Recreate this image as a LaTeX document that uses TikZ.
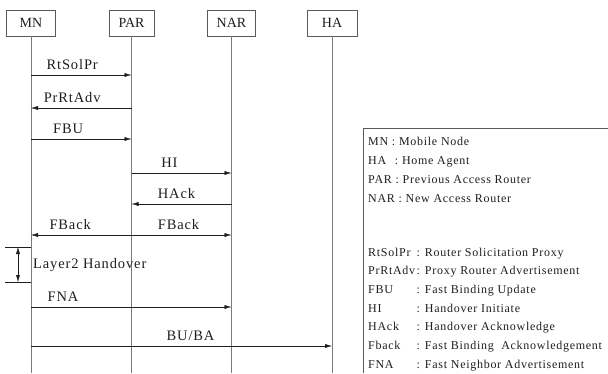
\documentclass[tikz,border=0pt]{standalone}
\usepackage{fontspec}
\setmainfont{Liberation Serif}
\newfontfamily\legendfont{Liberation Serif}[LetterSpace=6]
\newfontfamily\labelfont{Liberation Serif}[LetterSpace=6]
\usetikzlibrary{arrows.meta,positioning,calc}
\definecolor{ink}{HTML}{1E1E1E}
\definecolor{lifegray}{HTML}{7A7A7A}
\definecolor{boxgray}{HTML}{5A5A5A}
\tikzset{
  actor/.style={draw=boxgray, thin, fill=white, minimum width=48pt, minimum height=26pt, inner sep=0pt, font=\fontsize{14}{16}\selectfont, text=ink},
  life/.style={draw=lifegray, thin},
  msg/.style={-{Latex[length=7pt,width=4pt]}, draw=ink, thin},
  bimsg/.style={{Latex[length=7pt,width=4pt]}-{Latex[length=7pt,width=4pt]}, draw=ink, thin},
  msglabel/.style={font=\labelfont\fontsize{14.5}{16}\selectfont, text=ink, inner sep=0pt, above=5pt},
  legend/.style={font=\legendfont\fontsize{12}{13}\selectfont, text=ink, anchor=base west, inner sep=0pt}
}

\begin{document}
\begin{tikzpicture}[x=1pt, y=-1pt]
\useasboundingbox (0,0) rectangle (608,373);
\node[actor, minimum width=49pt] (mn) at (31,23) {MN};
\node[actor, minimum width=45pt] (par) at (131.5,23) {PAR};
\node[actor, minimum width=48pt] (nar) at (231.5,23) {NAR};
\node[actor, minimum width=50pt] (ha) at (332,23) {HA};
\foreach \a in {mn,par,nar,ha}
  \draw[life] (\a.south) -- (\a.south |- 0,373);
\draw[msg] (mn.south |- 0,75) -- node[msglabel, pos=0.41] {RtSolPr} (par.south |- 0,75);
\draw[msg] (par.south |- 0,108) -- node[msglabel, pos=0.59] {PrRtAdv} (mn.south |- 0,108);
\draw[msg] (mn.south |- 0,139) -- node[msglabel, pos=0.37] {FBU} (par.south |- 0,139);
\draw[msg] (par.south |- 0,173) -- node[msglabel, pos=0.38] {HI} (nar.south |- 0,173);
\draw[msg] (nar.south |- 0,204) -- node[msglabel, pos=0.55] {HAck} (par.south |- 0,204);
\draw[msg] (par.south |- 0,235) -- node[msglabel, pos=0.61] {FBack} (mn.south |- 0,235);
\draw[msg] (par.south |- 0,235) -- node[msglabel, pos=0.47] {FBack} (nar.south |- 0,235);
\coordinate (l2top) at (18,247);
\coordinate (l2bot) at (18,282);
\draw[draw=ink, thin] (5,247) -- (mn.south |- 0,247);
\draw[draw=ink, thin] (5,282) -- (mn.south |- 0,282);
\draw[bimsg] (l2top) -- (l2bot);
\node[font=\labelfont\fontsize{14.5}{16}\selectfont, text=ink, inner sep=0pt, anchor=west] (l2text) at (33,265) {Layer2 Handover};
\draw[msg] (mn.south |- 0,307) -- node[msglabel, pos=0.16] {FNA} (nar.south |- 0,307);
\draw[msg] (mn.south |- 0,346) -- node[msglabel, pos=0.53] {BU/BA} (ha.south |- 0,346);
\draw[draw=boxgray, thin] (363,373) -- (363,128) -- (608,128);
\node[legend] (k1) at (368,145) {MN : Mobile Node};
\node[legend] (k2) at (368,164) {HA\hspace{5pt} : Home Agent};
\node[legend] (k3) at (368,183) {PAR : Previous Access Router};
\node[legend] (k4) at (368,202) {NAR : New Access Router};
\foreach \y/\n/\d in {256/RtSolPr/Router Solicitation Proxy, 274/PrRtAdv/Proxy Router Advertisement, 293/FBU/Fast Binding Update, 312/HI/Handover Initiate, 330/HAck/Handover Acknowledge, 349/Fback/Fast Binding\ \ Acknowledgement, 368/FNA/Fast Neighbor Advertisement}{
  \node[legend] (n\y) at (368,\y) {\n};
  \node[legend] (d\y) at (416.5,\y) {: \d};
}
\end{tikzpicture}
\end{document}
